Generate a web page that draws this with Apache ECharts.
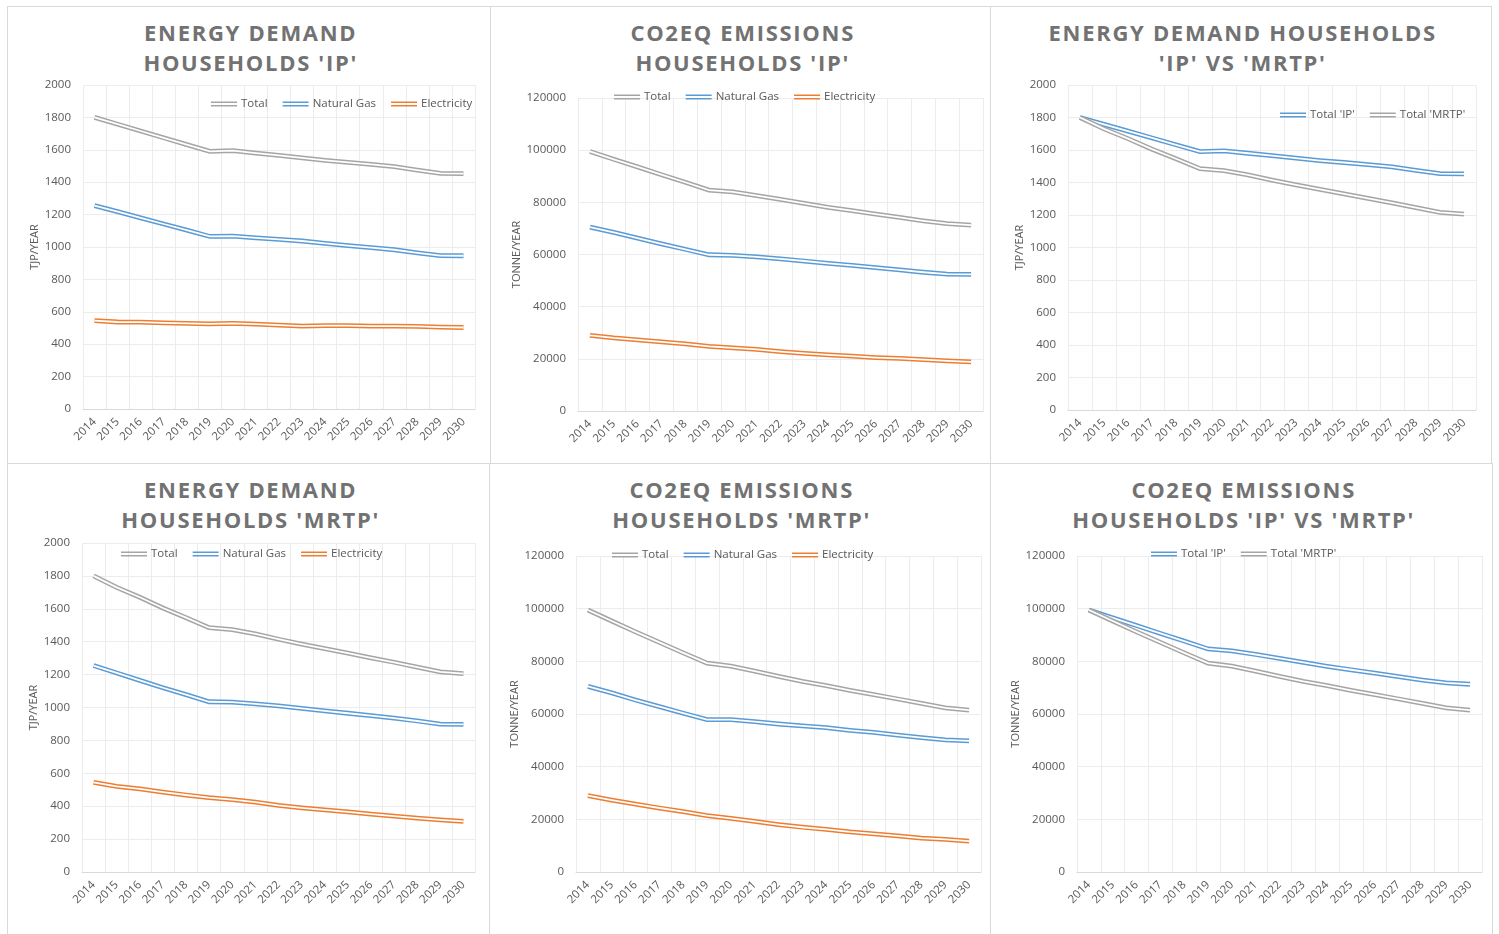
<!DOCTYPE html>
<html>
<head>
<meta charset="utf-8">
<title>Households energy demand and CO2eq emissions</title>
<script src="https://cdn.jsdelivr.net/npm/echarts@6/dist/echarts.min.js"></script>
<style>
  html, body { margin: 0; padding: 0; background: #ffffff; }
  #page { position: relative; width: 1499px; height: 934px; overflow: hidden; background: #ffffff; }
  .panel { position: absolute; box-sizing: border-box; border: 1px solid #d9d9d9; background: #ffffff; }
  .title {
    position: absolute; text-align: center; white-space: nowrap;
    font-family: "Open Sans", "DejaVu Sans", sans-serif; font-weight: 700;
    font-size: 22px; line-height: 30px; letter-spacing: 1.7px; color: #727272;
  }
  #chart { position: absolute; left: 0; top: 0; width: 1499px; height: 934px; }
</style>
</head>
<body>
<div id="page">
  <div class="panel" style="left:7px;top:6px;width:484px;height:458px;"></div>
  <div class="panel" style="left:490px;top:6px;width:501px;height:458px;"></div>
  <div class="panel" style="left:990px;top:6px;width:502px;height:458px;"></div>
  <div class="panel" style="left:7px;top:463px;width:483px;height:480px;"></div>
  <div class="panel" style="left:489px;top:463px;width:502px;height:480px;"></div>
  <div class="panel" style="left:990px;top:463px;width:503px;height:480px;"></div>
  <div id="titles"></div>
  <div id="chart"></div>
</div>
<script>
// Years on the horizontal axis
const years = ['2014', '2015', '2016', '2017', '2018', '2019', '2020', '2021', '2022',
               '2023', '2024', '2025', '2026', '2027', '2028', '2029', '2030'];

// Energy demand of households, scenario 'IP' (TJP/year)
const energyIpTotal = [1800, 1758, 1716, 1674, 1632, 1590, 1595, 1580, 1565, 1550, 1535, 1523, 1510, 1496, 1475, 1455, 1453];
const energyIpGas   = [1255, 1218, 1180, 1142, 1104, 1065, 1067, 1056, 1047, 1037, 1022, 1008,  996,  983,  964,  947,  946];
const energyIpElec  = [ 545,  537,  536,  532,  528,  525,  528,  524,  518,  511,  515,  515,  512,  511,  510,  506,  503];

// Energy demand of households, scenario 'MRTP' (TJP/year)
const energyMrtpTotal = [1800, 1730, 1670, 1605, 1546, 1485, 1473, 1447, 1415, 1385, 1358, 1330, 1302, 1275, 1245, 1216, 1206];
const energyMrtpGas   = [1255, 1210, 1165, 1120, 1078, 1035, 1033, 1022, 1010,  995,  980,  965,  950,  935,  918,  899,  898];
const energyMrtpElec  = [ 545,  520,  505,  485,  468,  452,  440,  425,  405,  390,  378,  365,  352,  340,  327,  317,  308];

// CO2eq emissions of households, scenario 'IP' (tonne/year)
const co2IpTotal = [99500, 96500, 93600, 90600, 87700, 84700, 84000, 82600, 81100, 79600, 78100, 76800, 75500, 74200, 72900, 71800, 71300];
const co2IpGas   = [70500, 68500, 66300, 64100, 62000, 59900, 59700, 59100, 58300, 57500, 56600, 55800, 55000, 54100, 53200, 52500, 52400];
const co2IpElec  = [29000, 28000, 27300, 26500, 25700, 24800, 24200, 23600, 22800, 22100, 21500, 21000, 20500, 20200, 19700, 19200, 18800];

// CO2eq emissions of households, scenario 'MRTP' (tonne/year)
const co2MrtpTotal = [99500, 95300, 91200, 87200, 83200, 79300, 78200, 76300, 74300, 72400, 70800, 69000, 67400, 65700, 64000, 62300, 61500];
const co2MrtpGas   = [70500, 68000, 65300, 62800, 60300, 57900, 57900, 57100, 56200, 55500, 54800, 53800, 53000, 52000, 51000, 50200, 49800];
const co2MrtpElec  = [29000, 27300, 25800, 24300, 22900, 21400, 20400, 19200, 18000, 17000, 16200, 15200, 14500, 13700, 12900, 12400, 11700];

// Chart titles (two lines each)
const titles = [
  ['ENERGY DEMAND', "HOUSEHOLDS 'IP'"],
  ['CO2EQ EMISSIONS', "HOUSEHOLDS 'IP'"],
  ['ENERGY DEMAND HOUSEHOLDS', "'IP' VS 'MRTP'"],
  ['ENERGY DEMAND', "HOUSEHOLDS 'MRTP'"],
  ['CO2EQ EMISSIONS', "HOUSEHOLDS 'MRTP'"],
  ['CO2EQ EMISSIONS', "HOUSEHOLDS 'IP' VS 'MRTP'"]
];

const GRAY = '#a5a5a5';
const BLUE = '#5b9bd5';
const ORANGE = '#ed7d31';
const TEXT = '#595959';
const FONT = '"Open Sans", "DejaVu Sans", sans-serif';

// Layout of the six panels
const panels = [
  { cx: 249, ty: 17,  grid: { left: 83,   top: 85,  width: 392, height: 324 }, unit: 'TJP/YEAR',   max: 2000,   step: 200,   nameGap: 43,
    legend: { left: 211, top: 98 },
    lines: [['Total', energyIpTotal, GRAY], ['Natural Gas', energyIpGas, BLUE], ['Electricity', energyIpElec, ORANGE]] },
  { cx: 741, ty: 17,  grid: { left: 578,  top: 98,  width: 405, height: 313 }, unit: 'TONNE/YEAR', max: 120000, step: 20000, nameGap: 55,
    legend: { left: 614, top: 91 },
    lines: [['Total', co2IpTotal, GRAY], ['Natural Gas', co2IpGas, BLUE], ['Electricity', co2IpElec, ORANGE]] },
  { cx: 1241, ty: 17, grid: { left: 1068, top: 85,  width: 408, height: 325 }, unit: 'TJP/YEAR',   max: 2000,   step: 200,   nameGap: 42,
    legend: { left: 1280, top: 109 },
    lines: [["Total 'IP'", energyIpTotal, BLUE], ["Total 'MRTP'", energyMrtpTotal, GRAY]] },
  { cx: 249, ty: 474, grid: { left: 82,   top: 543, width: 393, height: 329 }, unit: 'TJP/YEAR',   max: 2000,   step: 200,   nameGap: 43,
    legend: { left: 121, top: 548 },
    lines: [['Total', energyMrtpTotal, GRAY], ['Natural Gas', energyMrtpGas, BLUE], ['Electricity', energyMrtpElec, ORANGE]] },
  { cx: 740, ty: 474, grid: { left: 576,  top: 556, width: 405, height: 316 }, unit: 'TONNE/YEAR', max: 120000, step: 20000, nameGap: 56,
    legend: { left: 612, top: 549 },
    lines: [['Total', co2MrtpTotal, GRAY], ['Natural Gas', co2MrtpGas, BLUE], ['Electricity', co2MrtpElec, ORANGE]] },
  { cx: 1242, ty: 474, grid: { left: 1077, top: 556, width: 405, height: 316 }, unit: 'TONNE/YEAR', max: 120000, step: 20000, nameGap: 54,
    legend: { left: 1151, top: 548 },
    lines: [["Total 'IP'", co2IpTotal, BLUE], ["Total 'MRTP'", co2MrtpTotal, GRAY]] }
];

// Titles with wide letter spacing
const titleHost = document.getElementById('titles');
panels.forEach(function (p, i) {
  const el = document.createElement('div');
  el.className = 'title';
  el.style.top = p.ty + 'px';
  el.style.left = (p.cx - 250) + 'px';
  el.style.width = '500px';
  el.style.paddingLeft = '1.7px';
  el.innerHTML = titles[i].map(function (t) { return t.replace(/&/g, '&amp;'); }).join('<br>');
  titleHost.appendChild(el);
});

// Double-line legend icon
const DOUBLE_ICON = 'path://M0,0L26,0L26,1.4L0,1.4Z M0,3.6L26,3.6L26,5L0,5Z';

const option = {
  animation: false,
  backgroundColor: 'transparent',
  textStyle: { fontFamily: FONT },
  grid: [], xAxis: [], yAxis: [], legend: [], series: []
};

panels.forEach(function (p, i) {
  option.grid.push(Object.assign({ containLabel: false }, p.grid));
  option.xAxis.push({
    type: 'category', gridIndex: i, data: years, boundaryGap: true,
    axisLine: { show: true, lineStyle: { color: '#d9d9d9', width: 1 } },
    axisTick: { show: false },
    axisLabel: { rotate: 45, interval: 0, color: TEXT, fontSize: 11.5, fontFamily: FONT, margin: 11 },
    splitLine: { show: true, lineStyle: { color: '#ececec', width: 1 } }
  });
  option.yAxis.push({
    type: 'value', gridIndex: i, min: 0, max: p.max, interval: p.step,
    name: p.unit, nameLocation: 'middle', nameRotate: 90, nameGap: p.nameGap,
    nameTextStyle: { color: TEXT, fontSize: 11, fontFamily: FONT },
    axisLine: { show: false }, axisTick: { show: false },
    axisLabel: { color: TEXT, fontSize: 11.5, fontFamily: FONT, margin: 12,
                 formatter: function (v) { return String(v); } },
    splitLine: { show: true, lineStyle: { color: '#ececec', width: 1 } }
  });
  option.legend.push({
    left: p.legend.left, top: p.legend.top, padding: 0, itemGap: 15,
    itemWidth: 26, itemHeight: 5, orient: 'horizontal', selectedMode: false,
    itemStyle: { borderWidth: 0 },
    textStyle: { color: TEXT, fontSize: 11.5, fontFamily: FONT, padding: [0, 0, 0, -1] },
    data: p.lines.map(function (l) { return { name: l[0], icon: DOUBLE_ICON, itemStyle: { color: l[2], borderWidth: 0 } }; })
  });
  // Each line is drawn as a wide coloured stroke with a thin white core
  p.lines.forEach(function (l, k) {
    option.series.push({
      type: 'line', name: l[0], xAxisIndex: i, yAxisIndex: i, data: l[1],
      symbol: 'none', silent: true, z: 2 + k * 2,
      itemStyle: { color: l[2] },
      lineStyle: { color: l[2], width: 4.8, join: 'miter' }
    });
    option.series.push({
      type: 'line', name: l[0], xAxisIndex: i, yAxisIndex: i, data: l[1],
      symbol: 'none', silent: true, z: 3 + k * 2,
      itemStyle: { color: l[2] },
      lineStyle: { color: '#ffffff', width: 1.8, join: 'miter' }
    });
  });
});

const chart = echarts.init(document.getElementById('chart'), null, { renderer: 'canvas' });
chart.setOption(option);
</script>
</body>
</html>
